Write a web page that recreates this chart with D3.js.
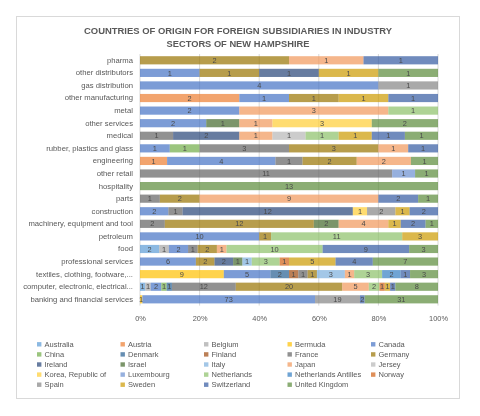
<!DOCTYPE html>
<html>
<head>
<meta charset="utf-8">
<script src="https://cdn.jsdelivr.net/npm/d3@7"></script>
<style>
  body { margin: 0; background: #fff; }
  svg { will-change: transform; opacity: 0.999; }
  text { font-family: "Liberation Sans", Arial, sans-serif; }
</style>
</head>
<body>
<svg id="chart" width="480" height="416"></svg>
<script>
const categories = [
  "pharma", "other distributors", "gas distribution", "other manufacturing", "metal",
  "other services", "medical", "rubber, plastics and glass", "engineering", "other retail",
  "hospitality", "parts", "construction", "machinery, equipment and tool", "petroleum",
  "food", "professional services", "textiles, clothing, footware,...",
  "computer, electronic, electrical...", "banking and financial services"
];

const countries = [
  "Australia", "Austria", "Belgium", "Bermuda", "Canada",
  "China", "Denmark", "Finland", "France", "Germany",
  "Ireland", "Israel", "Italy", "Japan", "Jersey",
  "Korea, Republic of", "Luxembourg", "Netherlands", "Netherlands Antilles", "Norway",
  "Spain", "Sweden", "Switzerland", "United Kingdom"
];

const countryColors = [
  "#5B9BD5", "#ED7D31", "#A5A5A5", "#FFC000", "#4472C4", "#70AD47",
  "#255E91", "#9E480E", "#636363", "#997300", "#264478", "#43682B",
  "#7CAFDD", "#F1975A", "#B7B7B7", "#FFCD33", "#698ED0", "#8CC168",
  "#327DC2", "#D26012", "#848484", "#CC9A00", "#335AA1", "#5A8A39"
];

// counts[country][category], categories in the order above
const counts = [
  /* Australia   */ [0,0,0,0,0,0,0,0,0,0,0,0,0,0,0,2,0,0,1,0],
  /* Austria     */ [0,0,0,2,0,0,0,0,1,0,0,0,0,0,0,0,0,0,0,0],
  /* Belgium     */ [0,0,0,0,0,0,0,0,0,0,0,0,0,0,0,1,0,0,1,0],
  /* Bermuda     */ [0,0,0,0,0,0,0,0,0,0,0,0,0,0,0,0,0,9,0,1],
  /* Canada      */ [0,1,4,1,2,2,0,1,4,0,0,0,2,0,10,2,6,5,2,73],
  /* China       */ [0,0,0,0,0,0,0,1,0,0,0,0,0,0,0,0,0,0,1,0],
  /* Denmark     */ [0,0,0,0,0,0,0,0,0,0,0,0,0,0,0,0,0,2,1,0],
  /* Finland     */ [0,0,0,0,0,0,0,0,0,0,0,0,0,0,0,0,0,1,0,0],
  /* France      */ [0,0,0,0,0,0,1,3,1,11,0,1,1,2,0,1,0,1,12,0],
  /* Germany     */ [2,1,0,1,0,0,0,3,2,0,0,2,0,12,1,2,2,1,20,0],
  /* Ireland     */ [0,1,0,0,0,0,2,0,0,0,0,0,12,0,0,0,2,0,0,0],
  /* Israel      */ [0,0,0,0,0,1,0,0,0,0,0,0,0,2,0,0,1,0,0,0],
  /* Italy       */ [0,0,0,0,0,0,0,0,0,0,0,0,0,0,0,0,1,3,0,0],
  /* Japan       */ [1,0,0,0,3,1,1,1,2,0,0,9,0,4,0,1,0,1,5,0],
  /* Jersey      */ [0,0,0,0,0,0,1,0,0,0,0,0,0,0,0,0,0,0,0,0],
  /* Korea       */ [0,0,0,0,0,3,0,0,0,0,0,0,1,0,0,0,0,0,0,0],
  /* Luxembourg  */ [0,0,0,0,0,0,0,0,0,1,0,0,0,0,0,0,0,0,0,0],
  /* Netherlands */ [0,0,0,0,1,0,1,0,0,0,0,0,0,0,11,10,3,3,2,0],
  /* Neth. Ant.  */ [0,0,0,0,0,0,0,0,0,0,0,0,0,0,0,0,0,2,0,0],
  /* Norway      */ [0,0,0,0,0,0,0,0,0,0,0,0,0,0,0,0,1,0,1,0],
  /* Spain       */ [0,0,1,0,0,0,0,0,0,0,0,0,2,0,0,0,0,0,0,19],
  /* Sweden      */ [0,1,0,1,0,0,1,0,0,0,0,0,1,1,3,0,5,0,1,0],
  /* Switzerland */ [1,0,0,1,0,0,1,1,0,0,0,2,2,2,0,9,4,1,1,2],
  /* UK          */ [0,1,0,0,0,2,1,0,1,1,13,1,0,1,0,3,7,3,8,31]
];

const xTicks = [0, 0.2, 0.4, 0.6, 0.8, 1.0];
const titleLines = [
  "COUNTRIES OF ORIGIN FOR FOREIGN SUBSIDIARIES IN INDUSTRY",
  "SECTORS OF NEW HAMPSHIRE"
];

const svg = d3.select("#chart");
const FONT = "'Liberation Sans', Arial, sans-serif";

// chart frame
svg.append("rect").attr("x", 16.5).attr("y", 16.5).attr("width", 443).attr("height", 382)
  .attr("fill", "#fff").attr("stroke", "#D9D9D9").attr("stroke-width", 1);

// title
const titleW = [308, 143];
titleLines.forEach((t, i) => {
  svg.append("text")
    .attr("x", 238).attr("y", 33.8 + i * 13)
    .attr("text-anchor", "middle")
    .attr("font-size", 9.8).attr("font-weight", "bold").attr("fill", "#595959")
    .attr("textLength", titleW[i]).attr("lengthAdjust", "spacingAndGlyphs")
    .text(t);
});

// table rows for the stack
const rows = categories.map((c, j) => {
  const r = { category: c };
  countries.forEach((k, i) => { r[k] = counts[i][j]; });
  return r;
});
const colorOf = d3.scaleOrdinal().domain(countries).range(countryColors);

const x = d3.scaleLinear().domain([0, 1]).range([140, 438]);
const y = d3.scaleBand().domain(categories).range([54, 305.6])
  .paddingInner(0.35).paddingOuter(0.175);

// gridlines
svg.append("g").selectAll("line").data(xTicks).join("line")
  .attr("x1", d => x(d)).attr("x2", d => x(d))
  .attr("y1", 54).attr("y2", 305.6)
  .attr("stroke", "#D9D9D9").attr("stroke-width", 1);

const stack = d3.stack().keys(countries).offset(d3.stackOffsetExpand);
const series = stack(rows);

const layers = svg.append("g").selectAll("g").data(series).join("g")
  .attr("fill", d => colorOf(d.key)).attr("fill-opacity", 0.7);

layers.selectAll("rect").data(d => d.filter(p => p[1] - p[0] > 0)).join("rect")
  .attr("x", p => x(p[0]))
  .attr("y", p => y(p.data.category))
  .attr("width", p => x(p[1]) - x(p[0]))
  .attr("height", y.bandwidth());

// data labels
const labels = svg.append("g");
series.forEach(s => {
  s.forEach(p => {
    const v = p.data[s.key];
    if (v > 0) {
      labels.append("text")
        .attr("x", (x(p[0]) + x(p[1])) / 2)
        .attr("y", y(p.data.category) + y.bandwidth() / 2)
        .attr("dy", "0.36em")
        .attr("text-anchor", "middle")
        .attr("font-size", 7.4).attr("fill", "#4a4a4a")
        .text(v);
    }
  });
});

// category axis labels
const yAxis = d3.axisLeft(y).tickSize(0).tickPadding(7);
const gy = svg.append("g").attr("transform", "translate(140,0)").call(yAxis);
gy.select(".domain").remove();
gy.selectAll("text").attr("font-size", 7.7).attr("fill", "#595959").style("font-family", FONT);

// x axis
const xAxis = d3.axisBottom(x).tickValues(xTicks).tickFormat(d3.format(".0%")).tickSize(0).tickPadding(10);
const gx = svg.append("g").attr("transform", "translate(0,305.6)").call(xAxis);
gx.select(".domain").remove();
gx.selectAll("text").attr("font-size", 7.4).attr("fill", "#595959").style("font-family", FONT);

// legend
const legendCols = [37, 120.5, 204, 287.5, 371];
const legend = svg.append("g");
countries.forEach((c, i) => {
  const col = i % 5, row = Math.floor(i / 5);
  const lx = legendCols[col], ly = 344.3 + row * 10.1;
  legend.append("rect").attr("x", lx).attr("y", ly - 2.2).attr("width", 4.4).attr("height", 4.4)
    .attr("fill", colorOf(c)).attr("fill-opacity", 0.7);
  legend.append("text").attr("x", lx + 7.5).attr("y", ly).attr("dy", "0.35em")
    .attr("font-size", 7.5).attr("fill", "#595959").text(c);
});
</script>
</body>
</html>
